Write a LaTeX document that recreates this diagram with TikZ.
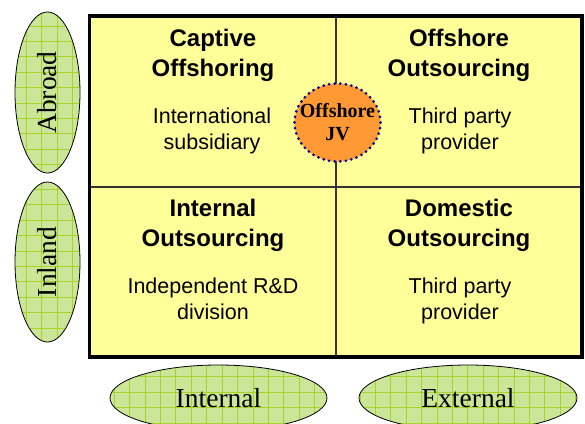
\documentclass[tikz,border=0pt]{standalone}
\usepackage{fontspec}
\setmainfont{Liberation Serif}
\newfontfamily\arialf{Liberation Sans}
\usetikzlibrary{shapes.geometric}
\definecolor{quadyellow}{HTML}{FFFF99}
\definecolor{ellgreen}{HTML}{CCE699}
\definecolor{gridgreen}{HTML}{A8D42A}
\definecolor{jvorange}{HTML}{FF9933}
\definecolor{jvblue}{HTML}{000099}
\definecolor{divgray}{HTML}{333333}
\begin{document}
\begin{tikzpicture}[x=1pt,y=-1pt,
  axisell/.style={ellipse, draw=black, line width=0.8pt, fill=ellgreen, inner sep=0pt,
     font=\fontsize{27.5}{30}\selectfont,
     path picture={\draw[gridgreen, line width=0.5pt, shift={(path picture bounding box.center)}, xshift=-1.5pt] (-154pt,-154pt) grid[step=15.4pt] (154pt,154pt);}},
  quadtitle/.style={anchor=north, align=center, inner sep=0pt, font=\arialf\bfseries\fontsize{24}{30}\selectfont},
  quaddesc/.style={anchor=north, align=center, inner sep=0pt, font=\arialf\fontsize{21.5}{26}\selectfont},
  jv/.style={ellipse, fill=jvorange, draw=jvblue, line width=3pt, dash pattern=on 0pt off 5.6pt, line cap=round,
     minimum width=86pt, minimum height=78pt, inner sep=0pt},
  jvtext/.style={align=center, inner sep=0pt, font=\bfseries\fontsize{20}{23}\selectfont},
  divider/.style={divgray, line width=1.5pt},
  frame/.style={black, line width=3.5pt}
]
\clip (0,0) rectangle (585,423);
\fill[white] (0,0) rectangle (585,423);
% matrix frame
\coordinate (tl) at (89.5,16);
\coordinate (br) at (582,357);
\coordinate (vt) at (336,16);
\coordinate (vb) at (336,357);
\coordinate (hl) at (89.5,187);
\coordinate (hr) at (582,187);
\fill[quadyellow] (tl) rectangle (br);
\draw[divider] (vt) -- (vb);
\draw[divider] (hl) -- (hr);
\draw[frame] (tl) rectangle (br);
% quadrant texts
\node[quadtitle] (t1) at (213,29) {Captive\\Offshoring};
\node[quaddesc] (d1) at (212,107.6) {International\\subsidiary};
\node[quadtitle] (t2) at (459,29) {Offshore\\Outsourcing};
\node[quaddesc] (d2) at (460,107.6) {Third party\\provider};
\node[quadtitle] (t3) at (213,199) {Internal\\Outsourcing};
\node[quaddesc] (d3) at (213,277.6) {Independent R\&D\\division};
\node[quadtitle] (t4) at (459,199) {Domestic\\Outsourcing};
\node[quaddesc] (d4) at (460,277.6) {Third party\\provider};
% joint venture
\node[jv] (jv) at (337.5,122.5) {};
\node[jvtext] (jvlabel) at (jv.center) {Offshore\\JV};
% axis ellipses
\node[axisell, rotate=90, minimum width=161pt, minimum height=65pt] (abroad) at (47.5,92.5) {Abroad};
\node[axisell, rotate=90, minimum width=160pt, minimum height=65pt] (inland) at (47.5,262) {Inland};
\node[axisell, minimum width=217pt, minimum height=66pt] (internal) at (218.5,398) {Internal};
\node[axisell, minimum width=218pt, minimum height=66pt] (external) at (468,398) {External};
\end{tikzpicture}
\end{document}
